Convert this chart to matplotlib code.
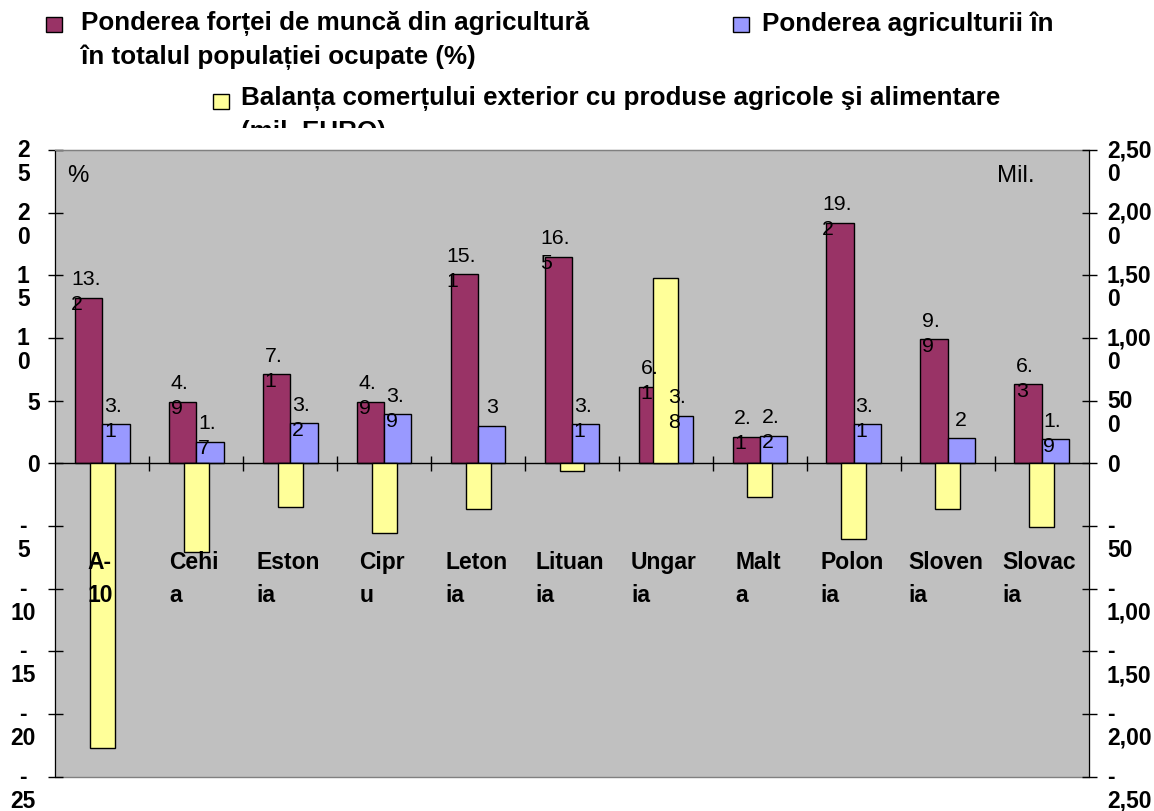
import matplotlib
matplotlib.use('Agg')
import matplotlib.pyplot as plt
from matplotlib.patches import Rectangle
from matplotlib.transforms import Bbox
import numpy as np

plt.rcParams['font.family'] = ['Liberation Sans', 'DejaVu Sans']

# ---------------- data ----------------
categories = ["A-\n10", "Cehi\na", "Eston\nia", "Cipr\nu", "Leton\nia", "Lituan\nia",
              "Ungar\nia", "Malt\na", "Polon\nia", "Sloven\nia", "Slovac\nia"]
labour_share = [13.2, 4.9, 7.1, 4.9, 15.1, 16.5, 6.1, 2.1, 19.2, 9.9, 6.3]      # %
agri_share = [3.1, 1.7, 3.2, 3.9, 3.0, 3.1, 3.8, 2.2, 3.1, 2.0, 1.9]           # %
trade_balance = [-2275, -705, -351, -556, -362, -59, 1479, -267, -604, -365, -508]  # mil. EURO

left_ticks = [-25, -20, -15, -10, -5, 0, 5, 10, 15, 20, 25]
left_tick_labels = ["-\n25", "-\n20", "-\n15", "-\n10", "-\n5", "0", "5",
                    "1\n0", "1\n5", "2\n0", "2\n5"]
right_ticks = [-2500, -2000, -1500, -1000, -500, 0, 500, 1000, 1500, 2000, 2500]
right_tick_labels = ["-\n2,50", "-\n2,00", "-\n1,50", "-\n1,00", "-\n50", "0",
                     "50\n0", "1,00\n0", "1,50\n0", "2,00\n0", "2,50\n0"]

legend_labels = ["Ponderea forței de muncă din agricultură\nîn totalul populației ocupate (%)",
                 "Ponderea agriculturii în",
                 "Balanța comerțului exterior cu produse agricole şi alimentare\n(mil. EURO)"]

# ---------------- style ----------------
C_MAROON = '#993366'
C_BLUE = '#9999FF'
C_YELLOW = '#FFFF99'
W, H = 1154, 812


def fx(px):
    return px / W


def fy(py):
    return 1 - py / H


def nl(s):
    return s.count('\n')


fig = plt.figure(figsize=(W / 100, H / 100), dpi=100)
L, R, T, B = 55.5, 1088.5, 151.0, 777.6
ax = fig.add_axes([fx(L), fy(B), (R - L) / W, (B - T) / H])
ax.set_facecolor('#C0C0C0')

x = np.arange(len(categories))
bw = 0.29
ax.bar(x - bw / 2, labour_share, bw, color=C_MAROON, edgecolor='black', linewidth=1, zorder=2)
ax.bar(x + bw / 2, agri_share, bw, color=C_BLUE, edgecolor='black', linewidth=1, zorder=2)
ax.set_xlim(-0.5, len(categories) - 0.5)
ax.set_ylim(-25, 25)

ax2 = ax.twinx()
ax2.bar(x, trade_balance, 0.265, color=C_YELLOW, edgecolor='black', linewidth=1, zorder=2)
ax2.set_ylim(-2500, 2500)
ax2.set_xlim(-0.5, len(categories) - 0.5)

# spines / frame
ax.spines['bottom'].set_position(('data', 0))
ax.spines['bottom'].set_color('black')
ax.spines['bottom'].set_linewidth(1)
ax.spines['top'].set_color('#808080')
ax.spines['left'].set_color('black')
ax.spines['right'].set_visible(False)
for s in ['left', 'top', 'bottom']:
    ax2.spines[s].set_visible(False)
ax2.spines['right'].set_color('black')
ax.add_patch(Rectangle((0, 0), 1, 1, transform=ax.transAxes, fill=False,
                       edgecolor='#808080', linewidth=1, zorder=0.5, clip_on=False))

tick_len = 15 * 72 / 100
ax.set_xticks(x[:-1] + 0.5)
ax.tick_params(axis='x', direction='inout', length=tick_len, width=1, colors='black',
               labelbottom=False)
ax.set_yticks(left_ticks)
ax.tick_params(axis='y', direction='inout', length=tick_len, width=1, colors='black',
               labelleft=False)
ax2.set_yticks(right_ticks)
ax2.tick_params(axis='y', direction='inout', length=tick_len, width=1, colors='black',
                labelright=False)

AX_FS = 16.5
AX_STEP = 22
AX_LS = 1.045
# left axis labels
ytr = ax.get_yaxis_transform()
for v, lab in zip(left_ticks, left_tick_labels):
    multi = '\n' in lab
    xpix = 23.3 if multi else 33.3
    ax.annotate(lab, xy=(0, v), xycoords=ytr,
                xytext=(xpix - L, -8 - nl(lab) * AX_STEP),
                textcoords='offset pixels', ha='center', va='baseline',
                multialignment='center', fontsize=AX_FS, fontweight='bold',
                linespacing=AX_LS, annotation_clip=False)
# right axis labels
ytr2 = ax2.get_yaxis_transform()
for v, lab in zip(right_ticks, right_tick_labels):
    ax2.annotate(lab, xy=(1, v), xycoords=ytr2,
                 xytext=(1107 - R, -8 - nl(lab) * AX_STEP),
                 textcoords='offset pixels', ha='left', va='baseline',
                 multialignment='left', fontsize=AX_FS, fontweight='bold',
                 linespacing=AX_LS, annotation_clip=False)

# category labels (drawn above all bars, like the original)
CAT_STEP = 30
for i, lab in enumerate(categories):
    ax2.annotate(lab, xy=(i, 0), xycoords=ax.transData,
                 xytext=(-2, -(571.7 - 464.3) - nl(lab) * CAT_STEP),
                 textcoords='offset pixels', ha='center', va='baseline',
                 multialignment='left', fontsize=16.5, fontweight='bold',
                 linespacing=1.53, zorder=5, annotation_clip=False)


def fmt(v):
    return f"{v:g}".replace('.', '.\n')


# data labels (drawn on top axis so they lie above all bars)
DL_STEP = 25
for series, off in ((labour_share, -bw / 2), (agri_share, bw / 2)):
    for i, v in enumerate(series):
        s = fmt(v)
        dx = -3 if '\n' in s else 0
        ax2.annotate(s, xy=(i + off, v), xycoords=ax.transData,
                     xytext=(dx, 13.5 - nl(s) * DL_STEP),
                     textcoords='offset pixels', ha='center', va='baseline',
                     multialignment='left', fontsize=15.3, linespacing=1.40,
                     zorder=5, annotation_clip=False)

# unit labels inside plot area
fig.text(fx(67), fy(181.5), '%', fontsize=17.3, ha='left', va='baseline')
fig.text(fx(997), fy(182), 'Mil.', fontsize=17.3, ha='left', va='baseline')

# legend (manual, as in the original layout)
LEG_FS = 18.7
LEG_STEP = 33
squares = [((46, 18), C_MAROON), ((733, 18), C_BLUE), ((213, 95), C_YELLOW)]
for (sx, sy), col in squares:
    fig.add_artist(Rectangle((fx(sx), fy(sy + 15)), 16 / W, 15 / H, transform=fig.transFigure,
                             facecolor=col, edgecolor='black', linewidth=1))
fig.text(fx(81), fy(31.5 + nl(legend_labels[0]) * LEG_STEP), legend_labels[0],
         fontsize=LEG_FS, fontweight='bold', ha='left', va='baseline', linespacing=1.48)
fig.text(fx(762), fy(31.5 + nl(legend_labels[1]) * LEG_STEP), legend_labels[1],
         fontsize=LEG_FS, fontweight='bold', ha='left', va='baseline', linespacing=1.48)
t3 = fig.text(fx(241), fy(106.5 + nl(legend_labels[2]) * LEG_STEP), legend_labels[2],
              fontsize=LEG_FS, fontweight='bold', ha='left', va='baseline', linespacing=1.48)
t3.set_clip_box(Bbox([[0, H - 128.5], [W, H]]))
t3.set_clip_on(True)

fig.savefig('out.png', dpi=100)
